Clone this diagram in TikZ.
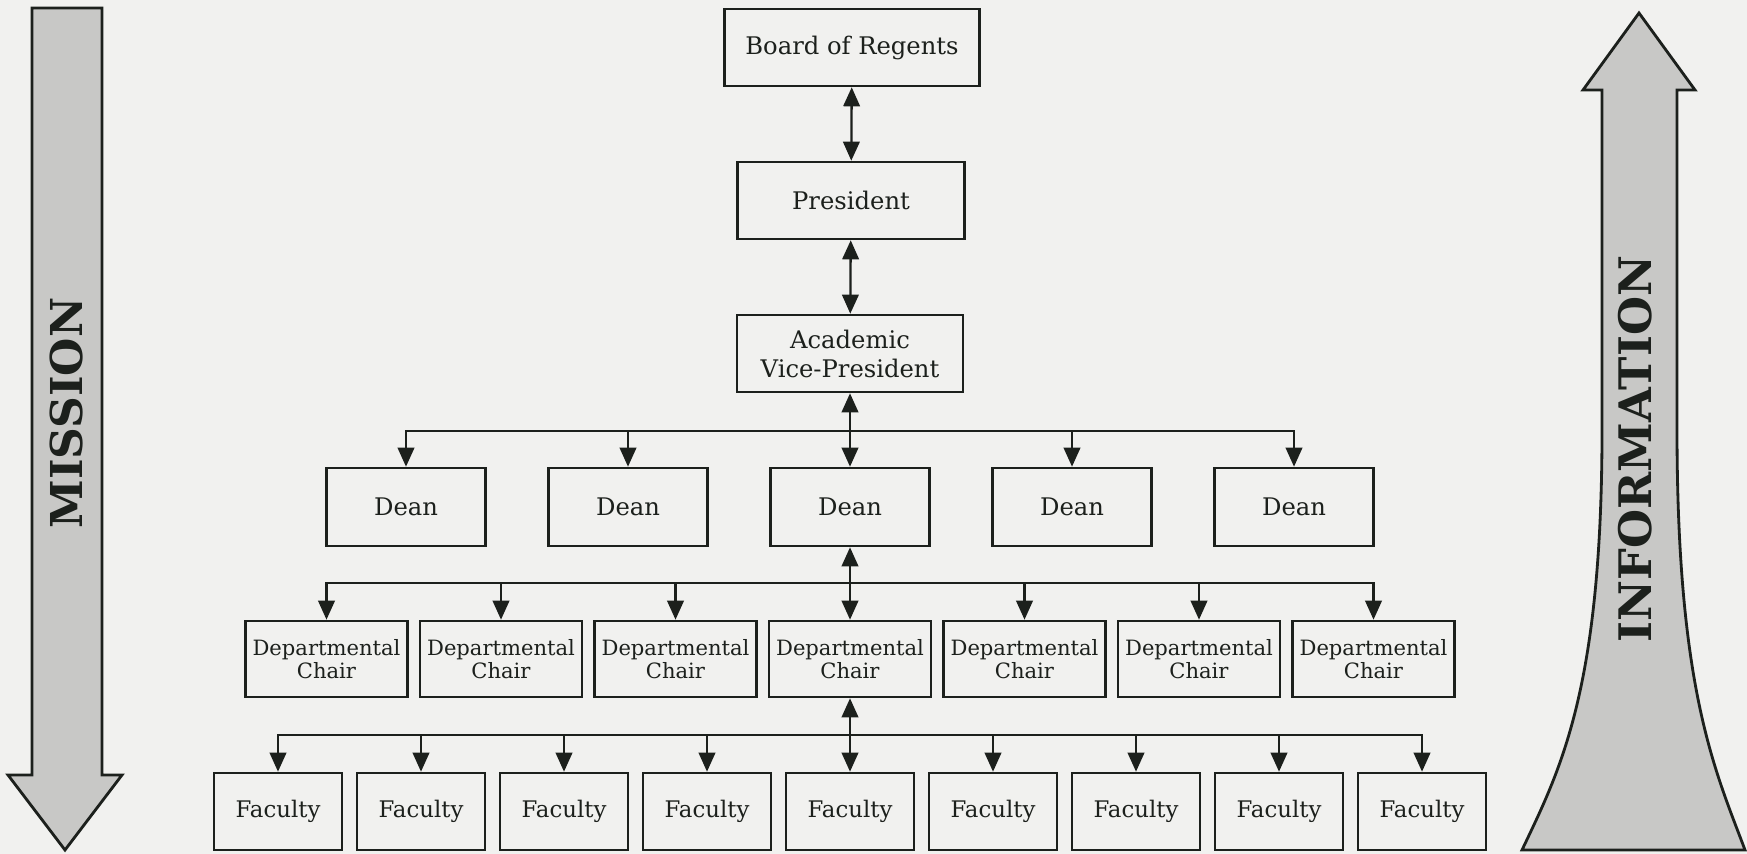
\documentclass[tikz,border=0pt]{standalone}
\usepackage{fontspec}
\setmainfont{DejaVu Serif}
\usetikzlibrary{arrows.meta,positioning}
\definecolor{paper}{RGB}{241,241,239}
\definecolor{shade}{RGB}{200,200,198}
\definecolor{ink}{RGB}{28,32,28}
\tikzset{
  box/.style={draw=ink,line width=1.5pt,inner sep=0pt,text=ink,align=center,
    font=\fontsize{13.8}{16.5}\selectfont,minimum height=1.54cm},
  dean/.style={box,minimum width=3.18cm,minimum height=1.56cm},
  chair/.style={box,minimum width=3.24cm,minimum height=1.52cm,font=\fontsize{12}{13.5}\selectfont},
  fac/.style={box,minimum width=2.56cm,font=\fontsize{13}{15}\selectfont},
  arr/.style={draw=ink,line width=1.3pt,-{Triangle[length=0.38cm,width=0.33cm]}},
  dbl/.style={arr,{Triangle[length=0.38cm,width=0.33cm]}-{Triangle[length=0.38cm,width=0.33cm]}},
  bigarrow/.style={draw=ink,line width=1.6pt,fill=shade},
  bigtext/.style={text=ink,font=\fontsize{25}{27}\selectfont\bfseries,rotate=90}
}

\begin{document}
\begin{tikzpicture}[x=0.02cm,y=-0.02cm]
  \useasboundingbox (0,0) rectangle (1747,854);
  \fill[paper] (0,0) rectangle (1747,854);
% Mission arrow
  \draw[bigarrow] (32,8) -- (102,8) -- (102,775) -- (122,775) -- (65,850) -- (8,775) -- (32,775) -- cycle;
  \node[bigtext] (mission) at (67,413) {MISSION};
% Information arrow
  \draw[bigarrow] (1639,13) -- (1695,90) -- (1677,90) -- (1677,430)
    .. controls (1677,690) and (1715,770) .. (1745,850) -- (1522,850)
    .. controls (1560,770) and (1602,690) .. (1602,430) -- (1602,90) -- (1583,90) -- cycle;
  \node[bigtext,font=\fontsize{25.5}{27}\selectfont\bfseries] (info) at (1635,449) {INFORMATION};
% Top of the chart
  \node[box,minimum width=5.1cm] (regents) at (852,47.5) {Board of Regents};
  \node[box,minimum width=4.54cm] (pres) at (851,200.5) {President};
  \node[box,minimum width=4.52cm] (avp) at (850,353.5) {Academic\\Vice-President};
% Deans
  \node[dean] (dean1) at (406,507) {Dean};
  \node[dean] (dean2) at (628,507) {Dean};
  \node[dean] (dean3) at (850,507) {Dean};
  \node[dean] (dean4) at (1072,507) {Dean};
  \node[dean] (dean5) at (1294,507) {Dean};
% Chairs
  \node[chair] (chair1) at (326.5,659) {Departmental\\Chair};
  \node[chair] (chair2) at (501,659) {Departmental\\Chair};
  \node[chair] (chair3) at (675.5,659) {Departmental\\Chair};
  \node[chair] (chair4) at (850,659) {Departmental\\Chair};
  \node[chair] (chair5) at (1024.5,659) {Departmental\\Chair};
  \node[chair] (chair6) at (1199,659) {Departmental\\Chair};
  \node[chair] (chair7) at (1373.5,659) {Departmental\\Chair};
% Faculty
  \node[fac] (fac1) at (278,811.5) {Faculty};
  \node[fac] (fac2) at (421,811.5) {Faculty};
  \node[fac] (fac3) at (564,811.5) {Faculty};
  \node[fac] (fac4) at (707,811.5) {Faculty};
  \node[fac] (fac5) at (850,811.5) {Faculty};
  \node[fac] (fac6) at (993,811.5) {Faculty};
  \node[fac] (fac7) at (1136,811.5) {Faculty};
  \node[fac] (fac8) at (1279,811.5) {Faculty};
  \node[fac] (fac9) at (1422,811.5) {Faculty};
  \coordinate (deanbar) at (850,431);
  \coordinate (chairbar) at (850,583);
  \coordinate (facbar) at (850,735);
% Connectors
  \draw[dbl] (regents) -- (pres);
  \draw[dbl] (pres) -- (avp);
  \draw[dbl] (avp) -- (dean3);
  \draw[arr] (deanbar) -| (dean1);
  \draw[arr] (deanbar) -| (dean2);
  \draw[arr] (deanbar) -| (dean4);
  \draw[arr] (deanbar) -| (dean5);
  \draw[dbl] (dean3) -- (chair4);
  \draw[arr] (chairbar) -| (chair1);
  \draw[arr] (chairbar) -| (chair2);
  \draw[arr] (chairbar) -| (chair3);
  \draw[arr] (chairbar) -| (chair5);
  \draw[arr] (chairbar) -| (chair6);
  \draw[arr] (chairbar) -| (chair7);
  \draw[dbl] (chair4) -- (fac5);
  \draw[arr] (facbar) -| (fac1);
  \draw[arr] (facbar) -| (fac2);
  \draw[arr] (facbar) -| (fac3);
  \draw[arr] (facbar) -| (fac4);
  \draw[arr] (facbar) -| (fac6);
  \draw[arr] (facbar) -| (fac7);
  \draw[arr] (facbar) -| (fac8);
  \draw[arr] (facbar) -| (fac9);
\end{tikzpicture}
\end{document}
